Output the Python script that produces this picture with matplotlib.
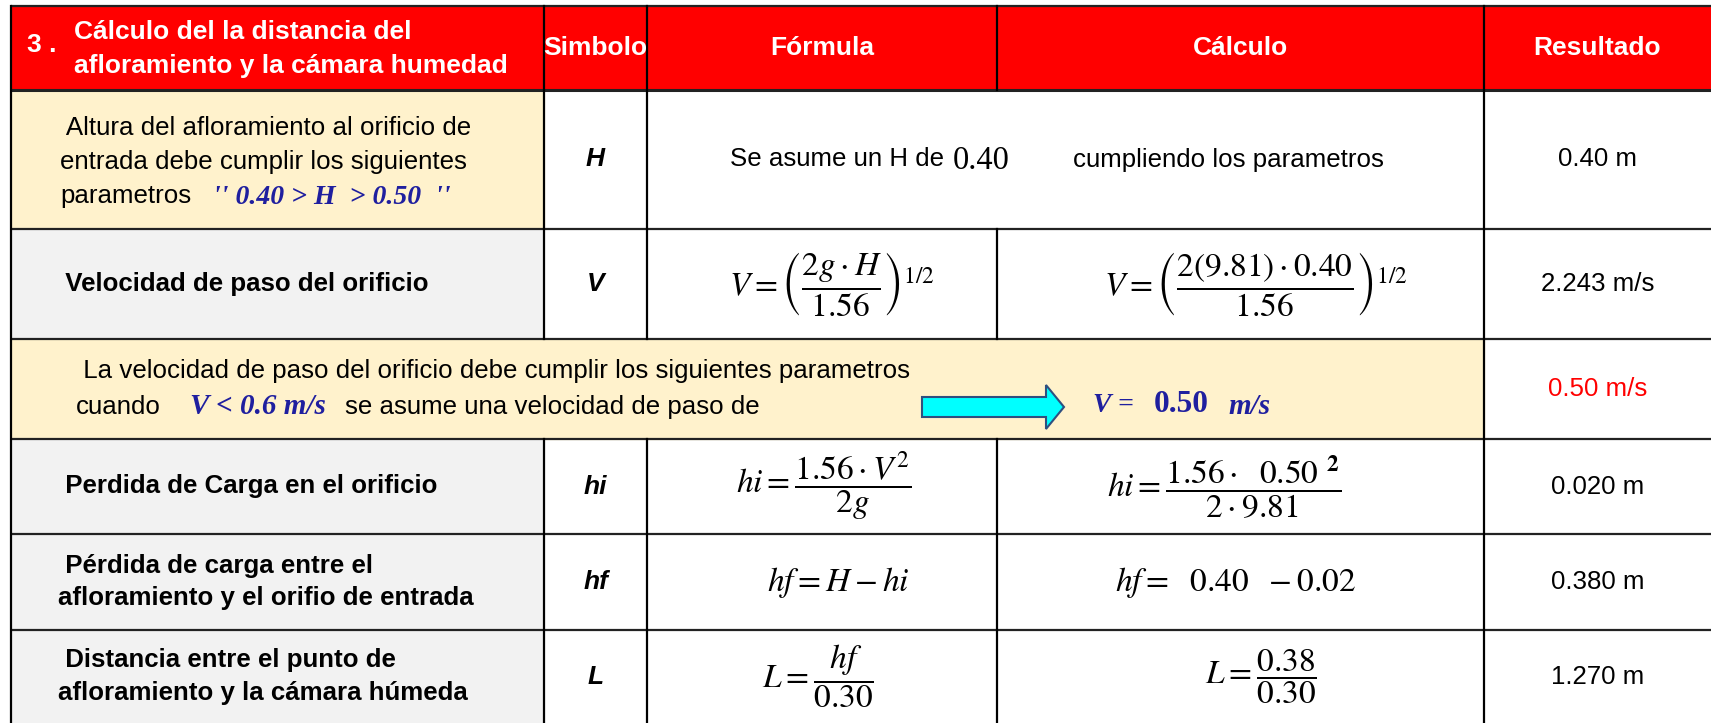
import matplotlib.pyplot as plt
from matplotlib.patches import Rectangle, FancyArrow

plt.rcParams['font.family'] = ['Liberation Sans', 'DejaVu Sans']
plt.rcParams['mathtext.fontset'] = 'stix'

# datos de la tabla
seccion = "3 ."
titulo = ["Cálculo del la distancia del", "afloramiento y la cámara humedad"]
encabezado = ["Simbolo", "Fórmula", "Cálculo", "Resultado"]
desc_altura = [" Altura del afloramiento al orificio de",
               "entrada debe cumplir los siguientes",
               "parametros"]
rango_H = "'' 0.40 > H  > 0.50  ''"
descripciones = ["",
                 " Velocidad de paso del orificio",
                 " La velocidad de paso del orificio debe cumplir los siguientes parametros",
                 " Perdida de Carga en el orificio",
                 " Pérdida de carga entre el\nafloramiento y el orifio de entrada",
                 " Distancia entre el punto de\nafloramiento y la cámara húmeda"]
simbolos = ["H", "V", "", "hi", "hf", "L"]
H = "0.40"
g = "9.81"
V_limite = "0.6"
V_asumida = "0.50"
hi = "0.02"
hf = "0.38"
formulas = ["",
            r"$V=\left(\dfrac{2g\cdot H}{1.56}\right)^{1/2}$",
            "",
            r"$hi=\dfrac{1.56\cdot V^{2}}{2g}$",
            r"$hf=H-hi$",
            r"$L=\dfrac{hf}{0.30}$"]
calculos = ["",
            r"$V=\left(\dfrac{2(%s)\cdot %s}{1.56}\right)^{1/2}$" % (g, H),
            "",
            r"$hi=\dfrac{1.56\cdot\ \ %s\ ^{\mathbf{2}}}{2\cdot %s}$" % (V_asumida, g),
            r"$hf=\ \ %s\ \ -%s$" % (H, hi),
            r"$L=\dfrac{%s}{0.30}$" % hf]
resultados = ["0.40 m", "2.243 m/s", "0.50 m/s", "0.020 m", "0.380 m", "1.270 m"]
color_resultado = ["black", "black", "red", "black", "black", "black"]
fondo_desc = ["#FFF2CC", "#F2F2F2", "#FFF2CC", "#F2F2F2", "#F2F2F2", "#F2F2F2"]
# desplazamiento horizontal de las formulas dentro de su celda
dx_formula = [0, 10, 0, 2, 16, -4]
dx_calculo = [0, 15, 0, -16, -5, 20]

W, Hpx = 1711, 723
xs = [11, 544, 647, 997, 1484, 1711]
ys = [6, 90, 229, 339, 439, 534, 630, 723]

fig = plt.figure(figsize=(W / 100, Hpx / 100), dpi=100)
ax = fig.add_axes([0, 0, 1, 1])
ax.set_xlim(0, W)
ax.set_ylim(Hpx, 0)
ax.axis('off')

azul = "#1F1F9F"
fs = 18.6
serif = "Liberation Serif"

# encabezado
ax.add_patch(Rectangle((xs[0], ys[0]), xs[-1] - xs[0], ys[1] - ys[0], color="#FF0000", zorder=0))
ax.text(27, 45, seccion, color="white", fontsize=19, fontweight="bold", ha="left", va="center")
for linea, yy in zip(titulo, [32, 66]):
    ax.text(74, yy, linea, color="white", fontsize=19, fontweight="bold", ha="left", va="center")
for i in range(4):
    ax.text((xs[i + 1] + xs[i + 2]) / 2, 48, encabezado[i], color="white", fontsize=19,
            fontweight="bold", ha="center", va="center")

for r in range(6):
    y0, y1 = ys[r + 1], ys[r + 2]
    yc = (y0 + y1) / 2
    x_fin = xs[4] if r == 2 else xs[1]
    ax.add_patch(Rectangle((xs[0], y0), x_fin - xs[0], y1 - y0, color=fondo_desc[r], zorder=0))
    if r == 0:
        for linea, yy in zip(desc_altura, [128, 162, 196]):
            ax.text(60, yy, linea, fontsize=fs, ha="left", va="center")
        ax.text(213, 198, rango_H, fontsize=20, color=azul, family=serif,
                fontweight="bold", style="italic", ha="left", va="center")
    elif r == 2:
        ax.text(76, 371, descripciones[r], fontsize=fs, ha="left", va="center")
        ax.text(76, 407, "cuando", fontsize=fs, ha="left", va="center")
        ax.text(190, 406, "V < %s m/s" % V_limite, fontsize=21, color=azul, family=serif,
                fontweight="bold", style="italic", ha="left", va="center")
        ax.text(345, 407, "se asume una velocidad de paso de", fontsize=fs, ha="left", va="center")
        ax.add_patch(FancyArrow(922, 407, 124, 0, width=20, head_width=44, head_length=18,
                                length_includes_head=False, facecolor="#00FFFF", edgecolor="#2F4F7F", lw=1.5))
        ax.text(1093, 406, "V =", fontsize=20, color=azul, family=serif,
                fontweight="bold", style="italic", ha="left", va="center")
        ax.text(1154, 405, V_asumida, fontsize=22.5, color=azul, family=serif,
                fontweight="bold", ha="left", va="center")
        ax.text(1228, 406, "m/s", fontsize=21, color=azul, family=serif,
                fontweight="bold", style="italic", ha="left", va="center")
    else:
        ax.text(58, yc, descripciones[r], fontsize=fs, fontweight="bold", ha="left", va="center",
                linespacing=1.45)
    if simbolos[r]:
        ax.text((xs[1] + xs[2]) / 2, yc, simbolos[r], fontsize=19, fontweight="bold",
                style="italic", ha="center", va="center")
    if r == 0:
        ax.text(944, yc, "Se asume un H de", fontsize=fs, ha="right", va="center")
        ax.text(953, yc + 1, H, fontsize=23.5, family=serif, ha="left", va="center")
        ax.text(1228, yc, "cumpliendo los parametros", fontsize=fs, ha="center", va="center")
    elif r != 2:
        ax.text((xs[2] + xs[3]) / 2 + dx_formula[r], yc, formulas[r], fontsize=24,
                ha="center", va="center")
        ax.text((xs[3] + xs[4]) / 2 + dx_calculo[r], yc, calculos[r], fontsize=24,
                ha="center", va="center")
    ax.text((xs[4] + xs[5]) / 2, yc, resultados[r], fontsize=fs, color=color_resultado[r],
            ha="center", va="center")

# lineas de la tabla
for y in ys[:-1]:
    ax.plot([xs[0], xs[-1]], [y, y], color="#222222", lw=2.2 if y == ys[1] else 1.6,
            solid_capstyle="butt")
ax.plot([xs[0], xs[0]], [ys[0], ys[-1]], color="black", lw=1.6)
ax.plot([xs[4], xs[4]], [ys[0], ys[-1]], color="black", lw=1.6)
for x in xs[1:4]:
    segs = [(0, 1), (2, 3), (4, 7)] if x == xs[3] else [(0, 3), (4, 7)]
    for r0, r1 in segs:
        ax.plot([x, x], [ys[r0], ys[r1]], color="black", lw=1.6)

fig.savefig("out.png", dpi=100)
